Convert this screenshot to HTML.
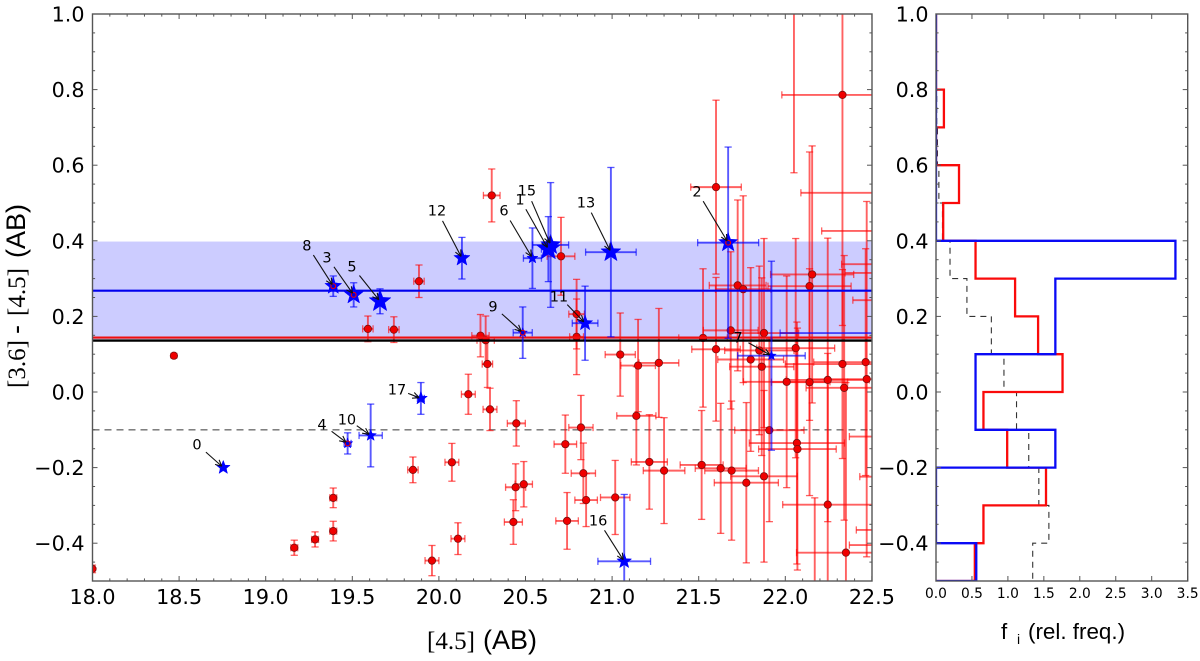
<!DOCTYPE html>
<html>
<head>
<meta charset="utf-8">
<style>
html,body{margin:0;padding:0;background:#fff;width:1200px;height:661px;overflow:hidden}
svg{display:block}
text{fill:#000}
.tick{font-family:"DejaVu Sans",sans-serif;font-size:20.7px}
.tick-small{font-family:"DejaVu Sans",sans-serif;font-size:13.8px}
.anno{font-family:"DejaVu Sans",sans-serif;font-size:14.5px}
.title-sans{font-family:"Liberation Sans",sans-serif;font-size:27px}
.title-serif{font-family:"Liberation Serif",serif;font-size:25px}
</style>
</head>
<body>
<svg id="chart" xmlns="http://www.w3.org/2000/svg" width="1200" height="661" viewBox="0 0 1200 661">
<defs>
<clipPath id="main-clip"><rect x="92.5" y="14" width="779.5" height="567"></rect></clipPath>
<clipPath id="hist-clip"><rect x="936" y="14" width="251.7" height="567"></rect></clipPath>
</defs>
</svg>
<script>
// ---------- main scatter data ----------
const redX = [18.47,18.0,19.165,19.285,19.39,19.39,19.59,19.74,19.85,19.885,19.96,20.075,20.11,20.17,20.24,20.27,20.28,20.295,20.305,20.43,20.443,20.447,20.49,20.705,20.73,20.74,20.795,20.795,20.82,20.834,20.85,21.018,21.047,21.14,21.15,21.215,21.27,21.30,21.517,21.525,21.60,21.60,21.627,21.685,21.69,21.725,21.757,21.775,21.80,21.85,21.864,21.877,21.877,21.908,22.008,22.06,22.067,22.07,22.14,22.14,22.155,22.245,22.245,22.33,22.33,22.34,22.35,22.464,22.47,22.8,22.8,22.8,22.8,22.8,22.8,22.8,22.8,22.8,22.05,22.17];
const redY = [0.096,-0.468,-0.412,-0.39,-0.368,-0.28,0.167,0.165,-0.206,0.293,-0.446,-0.186,-0.388,-0.006,0.149,0.137,0.074,-0.046,0.52,-0.344,-0.252,-0.083,-0.244,0.359,-0.138,-0.341,0.206,0.146,-0.094,-0.215,-0.286,-0.279,0.099,-0.063,0.07,-0.185,0.077,-0.208,-0.193,0.143,0.542,0.113,-0.202,0.163,-0.208,0.282,0.272,-0.24,0.086,0.11,0.067,0.156,-0.223,-0.101,0.027,0.116,-0.135,-0.151,0.28,0.026,0.311,0.032,-0.298,0.786,0.074,0.011,-0.425,0.079,0.034,0.527,0.426,0.338,0.315,0.243,-0.118,-0.224,-0.365,-0.405,1.2,-0.6];
const redXErr = [0.008,0.008,0.02,0.02,0.02,0.02,0.03,0.03,0.03,0.03,0.04,0.04,0.04,0.04,0.05,0.05,0.03,0.04,0.048,0.052,0.058,0.052,0.05,0.08,0.065,0.065,0.045,0.04,0.07,0.07,0.065,0.085,0.087,0.113,0.1,0.104,0.115,0.12,0.124,0.14,0.146,0.14,0.147,0.158,0.155,0.164,0.16,0.185,0.19,0.2,0.185,0.2,0.192,0.2,0.25,0.225,0.275,0.224,0.24,0.22,0.24,0.24,0.26,0.35,0.33,0.22,0.285,0.3,0.33,0.71,0.59,0.475,0.455,0.41,0.43,0.37,0.39,0.43,0.1,0.1];
const redYErr = [0.006,0.01,0.02,0.02,0.026,0.026,0.034,0.034,0.034,0.043,0.04,0.05,0.042,0.053,0.056,0.064,0.062,0.056,0.07,0.059,0.062,0.06,0.06,0.103,0.077,0.075,0.092,0.1,0.085,0.08,0.07,0.098,0.11,0.13,0.122,0.125,0.144,0.14,0.144,0.183,0.23,0.19,0.172,0.208,0.184,0.226,0.247,0.212,0.243,0.223,0.235,0.25,0.227,0.242,0.28,0.29,0.32,0.32,0.355,0.3,0.34,0.375,0.4,0.61,0.25,0.35,0.45,0.3,0.47,0.05,0.05,0.05,0.05,0.05,0.05,0.05,0.05,0.05,0.62,0.32];

const starId = [0,1,2,3,4,5,6,7,8,9,10,11,12,13,15,16,17];
const starX = [18.755,20.632,21.67,19.508,19.473,19.66,20.54,21.92,19.39,20.484,19.606,20.844,20.133,20.993,20.645,21.07,19.896];
const starY = [-0.2,0.378,0.395,0.257,-0.136,0.24,0.354,0.096,0.28,0.157,-0.115,0.182,0.354,0.37,0.389,-0.448,-0.017];
const starXErr = [0.004,0.04,0.176,0.02,0.02,0.02,0.052,0.195,0.02,0.055,0.067,0.074,0.02,0.146,0.104,0.152,0.02];
const starYErr = [0.004,0.086,0.253,0.032,0.028,0.033,0.08,0.25,0.027,0.068,0.083,0.098,0.055,0.224,0.165,0.177,0.042];
const starWeight = [7.2,12,10,10,5.5,11.5,5.8,5,8.8,5,6,8,8.5,10.5,10.5,7.7,6.8];
const starHasRedCounterpart = [0,0,1,1,1,0,0,0,1,1,0,0,0,0,0,0,0];
const labelX = [18.603,20.468,21.49,19.354,19.325,19.498,20.376,21.727,19.238,20.312,19.469,20.693,19.989,20.849,20.508,20.919,19.758];
const labelY = [-0.138,0.511,0.532,0.357,-0.085,0.333,0.481,0.146,0.389,0.228,-0.071,0.254,0.481,0.503,0.534,-0.339,0.008];

// off-axis blue source whose x-error bar enters from the right
const offStarX = [22.9];
const offStarY = [0.156];
const offStarXErr = [0.93];

const blueMean = 0.268;
const blueBandLow = 0.14;
const blueBandHigh = 0.398;
const redMean = 0.144;
const blackMean = 0.136;
const dashedLevel = -0.1;

const xTicks = ["18.0","18.5","19.0","19.5","20.0","20.5","21.0","21.5","22.0","22.5"];
const yTicks = ["\u22120.4","\u22120.2","0.0","0.2","0.4","0.6","0.8","1.0"];
const histXTicks = ["0.0","0.5","1.0","1.5","2.0","2.5","3.0","3.5"];

// ---------- histogram data (bins of 0.1 starting at -0.5) ----------
const histBinStart = -0.5;
const histBinWidth = 0.1;
const histRed = [0.54,0.66,1.53,0.99,0.66,1.76,1.42,1.10,0.55,0.10,0.32,0,0.11,0,0];
const histBlue = [0.56,0,0,1.66,0.55,0.55,1.66,1.66,3.33,0,0,0,0,0,0];
const histBlack = [1.345,1.57,1.43,1.29,1.12,0.945,0.77,0.43,0.195,0.09,0.04,0.02,0.01,0,0];

// ---------- axis functions ----------
const xMin = 18, xMax = 22.5, yMin = -0.5, yMax = 1;
function sx(v){ return 92.5 + (v - 18) * 173.2; }
function sy(v){ return 14 + (1 - v) * 378; }
function hx(v){ return 936 + v * 71.9; }
function clampX(v){ return Math.max(xMin - 0.02, Math.min(xMax + 0.02, v)); }
function clampY(v){ return Math.max(yMin - 0.02, Math.min(yMax + 0.02, v)); }
function inX(v){ return v >= xMin - 0.02 && v <= xMax + 0.02; }
function inY(v){ return v >= yMin - 0.02 && v <= yMax + 0.02; }

const NS = "http://www.w3.org/2000/svg";
const root = document.getElementById("chart");

function make(tag, attrs, parent, name, active){
  const el = document.createElementNS(NS, tag);
  for (const k in attrs) el.setAttribute(k, attrs[k]);
  
  
  (parent || root).appendChild(el);
  return el;
}
function seg(parent, x1, y1, x2, y2, stroke, w, name, extra){
  const a = {x1:x1, y1:y1, x2:x2, y2:y2, stroke:stroke, 'stroke-width':w};
  if (extra) for (const k in extra) a[k] = extra[k];
  return make('line', a, parent, name);
}
function label(parent, x, y, txt, cls, anchor, name){
  const t = make('text', {x:x, y:y, class:cls, 'text-anchor':anchor}, parent, name);
  t.textContent = txt;
  return t;
}
function errorBars(parent, x, y, xe, ye, color, name){
  const g = make('g', {}, parent, name);
  const cap = 3.6, w = 1.9, cw = 1.3;
  if (inY(y)) {
    seg(g, sx(clampX(x-xe)), sy(y), sx(clampX(x+xe)), sy(y), color, w, 'x-error-bar');
    if (inX(x-xe)) seg(g, sx(x-xe), sy(y)-cap, sx(x-xe), sy(y)+cap, color, cw, 'x-error-cap');
    if (inX(x+xe)) seg(g, sx(x+xe), sy(y)-cap, sx(x+xe), sy(y)+cap, color, cw, 'x-error-cap');
  }
  if (inX(x) && ye > 0) {
    seg(g, sx(x), sy(clampY(y-ye)), sx(x), sy(clampY(y+ye)), color, w, 'y-error-bar');
    if (inY(y-ye)) seg(g, sx(x)-cap, sy(y-ye), sx(x)+cap, sy(y-ye), color, cw, 'y-error-cap');
    if (inY(y+ye)) seg(g, sx(x)-cap, sy(y+ye), sx(x)+cap, sy(y+ye), color, cw, 'y-error-cap');
  }
}
function starPoints(cx, cy, R){
  const pts = [];
  for (let i = 0; i < 10; i++){
    const r = i % 2 ? R * 0.42 : R;
    const a = -Math.PI / 2 + i * Math.PI / 5;
    pts.push((cx + r * Math.cos(a)).toFixed(2) + ',' + (cy + r * Math.sin(a)).toFixed(2));
  }
  return pts.join(' ');
}
function stepPath(vals){
  let d = 'M' + hx(0) + ' ' + sy(histBinStart);
  vals.forEach(function(v, i){
    const lo = histBinStart + i * histBinWidth;
    d += 'L' + hx(v).toFixed(2) + ' ' + sy(lo).toFixed(2);
    d += 'L' + hx(v).toFixed(2) + ' ' + sy(lo + histBinWidth).toFixed(2);
  });
  return d;
}

// ---------- main panel ----------
const mainPanel = make('g', {'clip-path':'url(#main-clip)'}, root, 'main-plot-area');

make('rect', {x:sx(18), y:sy(blueBandHigh), width:sx(22.5)-sx(18), height:sy(blueBandLow)-sy(blueBandHigh), fill:'#ccccff'}, mainPanel, 'blue-sigma-band');
seg(mainPanel, sx(18), sy(dashedLevel), sx(22.5), sy(dashedLevel), '#6e6e6e', 1.3, 'dashed-reference-line', {'stroke-dasharray':'7 5'});

const redLayer = make('g', {}, mainPanel, 'red-sources');
redX.forEach(function(x, i){
  errorBars(redLayer, x, redY[i], redXErr[i], redYErr[i], 'rgba(255,0,0,0.62)', 'red-source-errors');
});
redX.forEach(function(x, i){
  if (!inX(x) || !inY(redY[i])) return;
  make('circle', {cx:sx(x), cy:sy(redY[i]), r:3.7, fill:'#f00000', stroke:'#7a1010', 'stroke-width':0.8}, redLayer, 'red-source-point');
});

seg(mainPanel, sx(18), sy(redMean), sx(22.5), sy(redMean), '#f01010', 2.2, 'red-mean-line');
seg(mainPanel, sx(18), sy(blackMean), sx(22.5), sy(blackMean), '#000000', 2.4, 'black-mean-line');
seg(mainPanel, sx(18), sy(blueMean), sx(22.5), sy(blueMean), '#0000ee', 2.2, 'blue-mean-line');

const blueLayer = make('g', {}, mainPanel, 'blue-sources');
offStarX.forEach(function(x, i){
  errorBars(blueLayer, x, offStarY[i], offStarXErr[i], 0, 'rgba(0,0,255,0.65)', 'off-axis-blue-error');
});
starX.forEach(function(x, i){
  errorBars(blueLayer, x, starY[i], starXErr[i], starYErr[i], 'rgba(0,0,255,0.65)', 'blue-source-errors');
});
starX.forEach(function(x, i){
  make('polygon', {points:starPoints(sx(x), sy(starY[i]), starWeight[i]), fill:'#0000ff', stroke:'#0000ff', 'stroke-width':0.5}, blueLayer, 'blue-star-' + starId[i]);
  if (starHasRedCounterpart[i]) {
    make('circle', {cx:sx(x), cy:sy(starY[i]), r:2.4, fill:'#0000e0', stroke:'#f00000', 'stroke-width':1.1}, blueLayer, 'red-counterpart-ring');
  }
});

// annotations with arrows
const annoLayer = make('g', {}, root, 'star-annotations');
starId.forEach(function(id, i){
  const lx = sx(labelX[i]), ly = sy(labelY[i]);
  const tx = sx(starX[i]), ty = sy(starY[i]);
  const dx = tx - lx, dy = ty - ly, len = Math.sqrt(dx*dx + dy*dy);
  const ux = dx / len, uy = dy / len;
  const ax = lx + ux * 12, ay = ly + uy * 12;
  const bx = tx - ux * 2, by = ty - uy * 2;
  seg(annoLayer, ax, ay, bx, by, '#111', 1.1, 'annotation-arrow-' + id);
  const c = 0.45, h = 7;
  const cos = Math.cos(c), sin = Math.sin(c);
  seg(annoLayer, bx, by, bx - h*(ux*cos - uy*sin), by - h*(uy*cos + ux*sin), '#111', 1.1, 'arrow-head-stroke');
  seg(annoLayer, bx, by, bx - h*(ux*cos + uy*sin), by - h*(uy*cos - ux*sin), '#111', 1.1, 'arrow-head-stroke');
  label(annoLayer, lx, ly + 5.5, String(id), 'anno', 'middle', 'annotation-label-' + id);
});

// main axes frame
const spineColor = '#555555';
const mainAxes = make('g', {}, root, 'main-axes');
make('rect', {x:92.5, y:14, width:779.5, height:567, fill:'none', stroke:spineColor, 'stroke-width':1.4}, mainAxes, 'main-axes-frame');
for (let k = 0; k <= 45; k++){
  const v = 18 + k * 0.1, major = k % 5 === 0, len = major ? 5 : 2.6;
  seg(mainAxes, sx(v), 581, sx(v), 581 - len, spineColor, 1, 'x-tick');
  seg(mainAxes, sx(v), 14, sx(v), 14 + len, spineColor, 1, 'x-tick-top');
}
for (let k = 0; k <= 30; k++){
  const v = -0.5 + k * 0.05, major = k % 4 === 2, len = major ? 5 : 2.6;
  seg(mainAxes, 92.5, sy(v), 92.5 + len, sy(v), spineColor, 1, 'y-tick');
  seg(mainAxes, 872, sy(v), 872 - len, sy(v), spineColor, 1, 'y-tick-right');
}
xTicks.forEach(function(t){
  label(mainAxes, sx(parseFloat(t)), 604, t, 'tick', 'middle', 'x-tick-label');
});
yTicks.forEach(function(t){
  label(mainAxes, 84.5, sy(parseFloat(t.replace('\u2212','-'))) + 7.5, t, 'tick', 'end', 'y-tick-label');
});

// x title
const xTitle = make('g', {}, root, 'x-axis-title');
label(xTitle, 427, 649, '[4.5]', 'title-serif', 'start', 'x-title-band');
label(xTitle, 483, 649, '(AB)', 'title-sans', 'start', 'x-title-unit');

// y title (rotated)
const yTitle = make('g', {transform:'translate(25,388) rotate(-90)'}, root, 'y-axis-title');
label(yTitle, 0, 0, '[3.6]', 'title-serif', 'start', 'y-title-band-a');
label(yTitle, 54, 0, '-', 'title-sans', 'start', 'y-title-minus');
label(yTitle, 72, 0, '[4.5]', 'title-serif', 'start', 'y-title-band-b');
label(yTitle, 130, 0, '(AB)', 'title-sans', 'start', 'y-title-unit');

// ---------- histogram panel ----------
const histPanel = make('g', {'clip-path':'url(#hist-clip)'}, root, 'histogram-area');
make('path', {d:stepPath(histBlack), fill:'none', stroke:'#333', 'stroke-width':1.1, 'stroke-dasharray':'6 5'}, histPanel, 'histogram-black-dashed');
make('path', {d:stepPath(histRed), fill:'none', stroke:'#fa0a0a', 'stroke-width':2.3}, histPanel, 'histogram-red');
make('path', {d:stepPath(histBlue), fill:'none', stroke:'#0a0af5', 'stroke-width':2.3}, histPanel, 'histogram-blue');

const histAxes = make('g', {}, root, 'histogram-axes');
make('rect', {x:936, y:14, width:251.7, height:567, fill:'none', stroke:spineColor, 'stroke-width':1.4}, histAxes, 'histogram-frame');
histXTicks.forEach(function(t){
  const v = parseFloat(t);
  seg(histAxes, hx(v), 581, hx(v), 576, spineColor, 1, 'hist-x-tick');
  seg(histAxes, hx(v), 14, hx(v), 19, spineColor, 1, 'hist-x-tick-top');
  label(histAxes, hx(v), 598, t, 'tick-small', 'middle', 'hist-x-tick-label');
});
for (let k = 0; k <= 30; k++){
  const v = -0.5 + k * 0.05, major = k % 4 === 2, len = major ? 5 : 2.6;
  seg(histAxes, 936, sy(v), 936 + len, sy(v), spineColor, 1, 'hist-y-tick');
  seg(histAxes, 1187.7, sy(v), 1187.7 - len, sy(v), spineColor, 1, 'hist-y-tick-right');
}
yTicks.forEach(function(t){
  label(histAxes, 928.5, sy(parseFloat(t.replace('\u2212','-'))) + 7.5, t, 'tick', 'end', 'hist-y-tick-label');
});

const histTitle = make('g', {}, root, 'histogram-x-axis-title');
const histF = label(histTitle, 1001, 639, 'f', 'title-sans', 'start', 'hist-title-f');
histF.setAttribute('style', 'font-size:22.4px');
const histSub = label(histTitle, 1017, 644, 'i', 'title-sans', 'start', 'hist-title-subscript');
histSub.setAttribute('style', 'font-size:14px');
const histRest = label(histTitle, 1028, 639, '(rel. freq.)', 'title-sans', 'start', 'hist-title-text');
histRest.setAttribute('style', 'font-size:22.4px');
</script>
</body>
</html>
